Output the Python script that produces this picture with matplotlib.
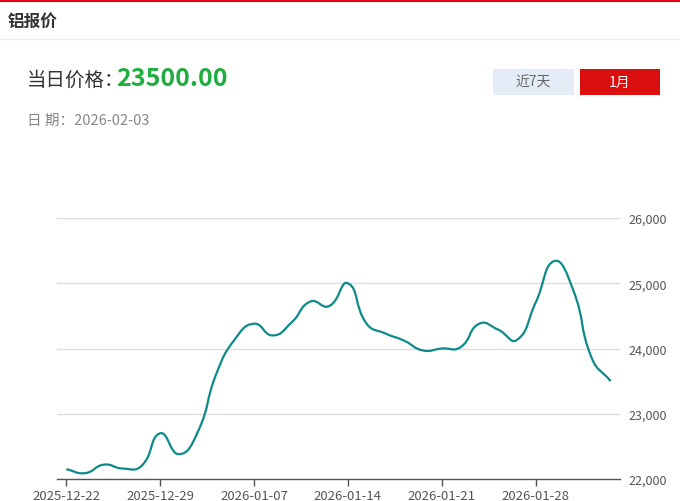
import numpy as np
import matplotlib.pyplot as plt
from matplotlib.path import Path
from matplotlib.patches import PathPatch, Rectangle

plt.rcParams['font.family'] = ['Noto Sans CJK SC', 'DejaVu Sans']

# ---- data ----
dates = ['2025-12-22', '2025-12-23', '2025-12-24', '2025-12-25', '2025-12-26',
         '2025-12-29', '2025-12-30', '2025-12-31', '2026-01-05', '2026-01-06',
         '2026-01-07', '2026-01-08', '2026-01-09', '2026-01-12', '2026-01-13',
         '2026-01-14', '2026-01-15', '2026-01-16', '2026-01-19', '2026-01-20',
         '2026-01-21', '2026-01-22', '2026-01-23', '2026-01-26', '2026-01-27',
         '2026-01-28', '2026-01-29', '2026-01-30', '2026-02-02', '2026-02-03']
prices = [22150, 22090, 22220, 22160, 22200,
          22700, 22380, 22720, 23620, 24150,
          24380, 24200, 24400, 24720, 24650,
          25000, 24380, 24230, 24120, 23970,
          24000, 24020, 24380, 24290, 24130,
          24700, 25340, 24900, 23850, 23500]
yticks = [22000, 23000, 24000, 25000, 26000]
W, H = 680, 502

fig = plt.figure(figsize=(W / 100, H / 100), dpi=100)

def fx(px):
    return px / W

def fy(py):
    return 1 - py / H

# header
fig.add_artist(plt.Line2D([0, 1], [fy(2), fy(2)], color='#e60012', lw=1.5))
fig.add_artist(plt.Line2D([0, 1], [fy(40), fy(40)], color='#eeeeee', lw=1))
fig.text(fx(8), fy(22), '铝报价', fontsize=12, fontweight='bold', color='#333333', va='center')
fig.text(fx(27), fy(80), '当日价格：', fontsize=14, color='#333333', va='center')
fig.text(fx(116), fy(79), '23500.00', fontsize=18, fontweight='bold', color='#1fad3f', va='center')
fig.text(fx(27), fy(121), '日 期：2026-02-03', fontsize=10.5, color='#888888', va='center')

# buttons
fig.add_artist(Rectangle((fx(493), fy(96)), fx(81), 26 / H, color='#e4edf7', lw=0))
fig.text(fx(533.5), fy(83), '近7天', fontsize=10, color='#666666', ha='center', va='center')
fig.add_artist(Rectangle((fx(580), fy(96)), fx(80), 26 / H, color='#da1010', lw=0))
fig.text(fx(620), fy(83), '1月', fontsize=10, color='white', ha='center', va='center')

# chart
ax = fig.add_axes([fx(57), fy(480), fx(620 - 57), (480 - 219) / H])
n = len(prices)
x = np.arange(n, dtype=float)
y = np.array(prices, dtype=float)

# smooth curve (bezier, control lengths weighted by on-screen segment length)
sx = (620 - 57) / n          # px per category
sy = (480 - 219) / 4000.0    # px per price unit
smooth = 0.5
cp_in = [None] * n
cp_out = [None] * n
for i in range(n):
    ip, inx = max(i - 1, 0), min(i + 1, n - 1)
    vx, vy = x[inx] - x[ip], y[inx] - y[ip]
    l0 = np.hypot((x[i] - x[ip]) * sx, (y[i] - y[ip]) * sy)
    l1 = np.hypot((x[inx] - x[i]) * sx, (y[inx] - y[i]) * sy)
    r = l1 / (l0 + l1) if l0 + l1 > 0 else 0.5
    cp_out[i] = (x[i] + vx * smooth * r, y[i] + vy * smooth * r)
    cp_in[i] = (x[i] - vx * smooth * (1 - r), y[i] - vy * smooth * (1 - r))
verts = [(x[0], y[0])]
codes = [Path.MOVETO]
for i in range(n - 1):
    verts += [cp_out[i], cp_in[i + 1], (x[i + 1], y[i + 1])]
    codes += [Path.CURVE4] * 3
ax.add_patch(PathPatch(Path(verts, codes), fill=False, edgecolor='#0e8a8a', lw=1.6, zorder=3))

ax.set_xlim(-0.5, n - 0.5)
ax.set_ylim(22000, 26000)
ax.set_yticks(yticks)
ax.set_yticklabels([f'{v:,}' for v in yticks])
ax.yaxis.tick_right()
ax.tick_params(axis='y', length=0, pad=6, labelsize=9, labelcolor='#555555')
ax.set_xticks(x[::5])
ax.set_xticklabels(dates[::5])
ax.tick_params(axis='x', length=5, width=1, color='#555555', pad=2, labelsize=9.5, labelcolor='#555555')
ax.grid(axis='y', color='#dddddd', lw=1)
ax.set_axisbelow(True)
for side in ['top', 'left', 'right']:
    ax.spines[side].set_visible(False)
ax.spines['bottom'].set_color('#555555')
ax.spines['bottom'].set_linewidth(1)
ax.set_facecolor('none')

fig.savefig('out.png', dpi=100)
